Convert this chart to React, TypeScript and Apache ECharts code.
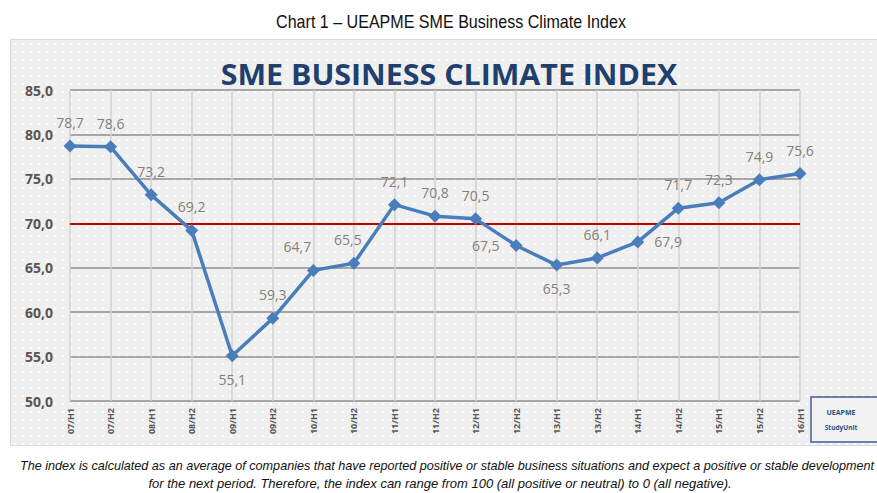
import React, { useEffect, useRef } from "react";
import * as echarts from "echarts";

const categories = [
  "07/H1", "07/H2", "08/H1", "08/H2", "09/H1", "09/H2", "10/H1", "10/H2",
  "11/H1", "11/H2", "12/H1", "12/H2", "13/H1", "13/H2", "14/H1", "14/H2",
  "15/H1", "15/H2", "16/H1",
];
const indexValues = [
  78.7, 78.6, 73.2, 69.2, 55.1, 59.3, 64.7, 65.5, 72.1, 70.8, 70.5, 67.5,
  65.3, 66.1, 67.9, 71.7, 72.3, 74.9, 75.6,
];
const thresholdValue = 70;
const yMin = 50;
const yMax = 85;
const yStep = 5;

const chartTitle = "SME BUSINESS CLIMATE INDEX";
const captionText = "Chart 1 – UEAPME SME Business Climate Index";
const footLine1 =
  "The index is calculated as an average of companies that have reported positive or stable business situations and expect a positive or stable development";
const footLine2 =
  "for the next period. Therefore, the index can range from 100 (all positive or neutral) to 0 (all negative).";
const badgeLine1 = "UEAPME";
const badgeLine2 = "StudyUnit";

const fmt = (v: number) => v.toFixed(1).replace(".", ",");

export default function App() {
  const ref = useRef<HTMLDivElement>(null);
  useEffect(() => {
    if (!ref.current) return;
    const chart = echarts.init(ref.current, null, { renderer: "svg" });
    const labelPos: Record<number, any> = {
      4: { position: "bottom", distance: 10 },
      6: { position: "top", offset: [-16, 0] },
      7: { position: "top", offset: [-6, 0] },
      11: { position: "left", distance: 10 },
      12: { position: "bottom", distance: 10 },
      14: { position: "right", distance: 10 },
    };
    const data = indexValues.map((v, i) => ({
      value: v,
      label: labelPos[i] || {},
    }));
    chart.setOption({
      animation: false,
      backgroundColor: "transparent",
      grid: { left: 70, right: 77, top: 90, bottom: 92, containLabel: false },
      xAxis: {
        type: "category",
        data: categories,
        boundaryGap: false,
        axisLine: { show: false },
        axisTick: { show: false },
        axisLabel: {
          rotate: 90,
          fontSize: 9,
          fontWeight: "bold",
          color: "#595959",
          fontFamily: "Open Sans",
          margin: 7,
        },
        splitLine: { show: true, lineStyle: { color: "#d2d2d2", width: 1.5 } },
      },
      yAxis: {
        type: "value",
        min: yMin,
        max: yMax,
        interval: yStep,
        axisLine: { show: false },
        axisTick: { show: false },
        axisLabel: {
          formatter: (v: number) => fmt(v),
          fontSize: 14,
          fontWeight: "bold",
          color: "#5a5550",
          fontFamily: "Open Sans",
          margin: 17,
        },
        splitLine: { show: true, lineStyle: { color: "#a6a6a6", width: 2 } },
      },
      series: [
        {
          type: "line",
          data,
          symbol: "diamond",
          symbolSize: 13,
          lineStyle: { color: "#4a7ebb", width: 3.5 },
          itemStyle: { color: "#4a7ebb" },
          label: {
            show: true,
            position: "top",
            distance: 10,
            formatter: (p: any) => fmt(p.value),
            fontSize: 14,
            color: "#858079",
            fontFamily: "Open Sans",
          },
          markLine: {
            silent: true,
            symbol: ["none", "none"],
            label: { show: false },
            lineStyle: { color: "#c00000", width: 2, type: "solid" },
            data: [{ yAxis: thresholdValue }],
          },
          z: 5,
        },
      ],
      graphic: [
        {
          type: "text",
          x: 451,
          y: 22,
          scaleX: 0.893,
          style: {
            text: captionText,
            font: "18px 'Liberation Sans', Arial, sans-serif",
            fill: "#111111",
            textAlign: "center",
            textVerticalAlign: "middle",
          },
        },
        {
          type: "text",
          x: 449,
          y: 74,
          scaleX: 1.085,
          style: {
            text: chartTitle,
            font: "bold 28px 'Open Sans', sans-serif",
            fill: "#1f3f6e",
            textAlign: "center",
            textVerticalAlign: "middle",
          },
        },
        {
          type: "rect",
          shape: { x: 811, y: 397, width: 80, height: 45 },
          style: { fill: "#f2f2f2", stroke: "#3f5f8f", lineWidth: 1.5 },
          z: 10,
        },
        {
          type: "text",
          x: 841,
          y: 412,
          z: 11,
          style: {
            text: badgeLine1,
            font: "bold 7px 'Open Sans', sans-serif",
            fill: "#2a4f86",
            textAlign: "center",
            textVerticalAlign: "middle",
          },
        },
        {
          type: "text",
          x: 841,
          y: 427,
          z: 11,
          style: {
            text: badgeLine2,
            font: "bold 6.5px 'Open Sans', sans-serif",
            fill: "#2a4f86",
            textAlign: "center",
            textVerticalAlign: "middle",
          },
        },
        {
          type: "text",
          x: 20,
          y: 465,
          scaleX: 0.972,
          style: {
            text: footLine1,
            font: "italic 13px 'Liberation Sans', Arial, sans-serif",
            fill: "#111111",
            textAlign: "left",
            textVerticalAlign: "middle",
          },
        },
        {
          type: "text",
          x: 440,
          y: 483,
          style: {
            text: footLine2,
            font: "italic 13px 'Liberation Sans', Arial, sans-serif",
            fill: "#111111",
            textAlign: "center",
            textVerticalAlign: "middle",
          },
        },
      ],
    });
    return () => chart.dispose();
  }, []);

  return (
    <div style={{ position: "absolute", left: 0, top: 0, width: 877, height: 493, overflow: "hidden", background: "#ffffff" }}>
      <div
        style={{
          position: "absolute",
          left: 10,
          top: 39,
          width: 880,
          height: 405,
          border: "1px solid #d9d9d9",
          backgroundColor: "#efefef",
          backgroundImage: "radial-gradient(circle, rgba(255,255,255,0.95) 0.8px, rgba(255,255,255,0) 1.3px)",
          backgroundSize: "8px 8px",
        }}
      />
      <div ref={ref} style={{ position: "absolute", left: 0, top: 0, width: 877, height: 493 }} />
    </div>
  );
}
